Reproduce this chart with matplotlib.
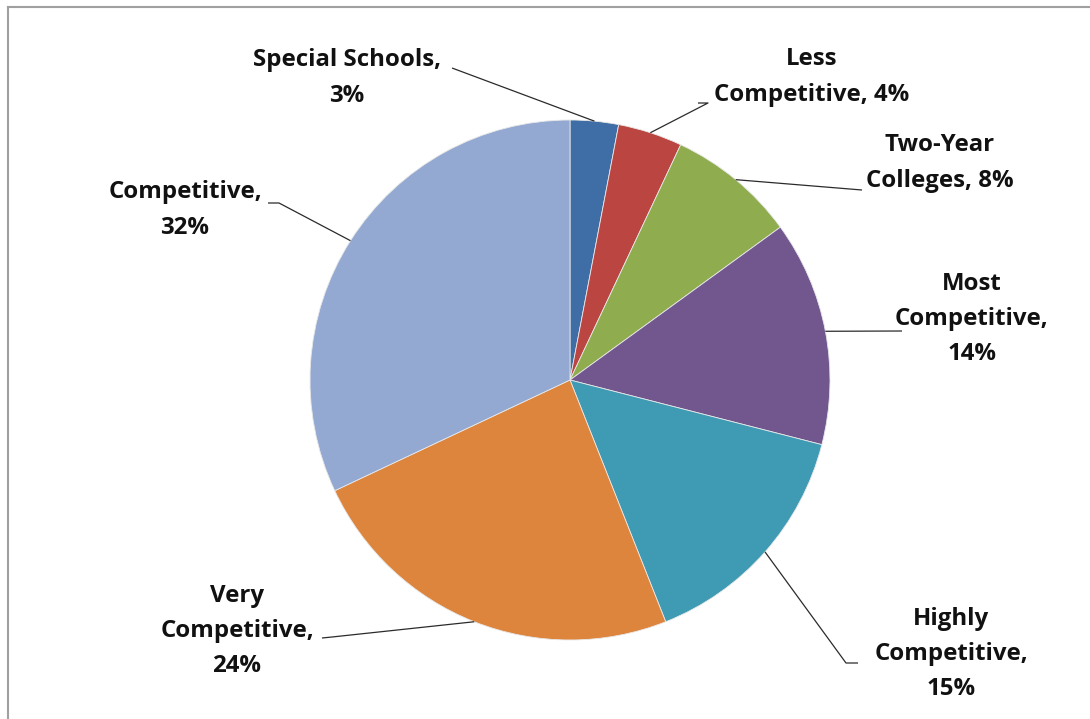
import numpy as np
import matplotlib.pyplot as plt
from matplotlib.lines import Line2D

# Share of schools by selectivity
labels = ['Special Schools', 'Less Competitive', 'Two-Year Colleges',
          'Most Competitive', 'Highly Competitive', 'Very Competitive',
          'Competitive']
shares = [3, 4, 8, 14, 15, 24, 32]
label_text = ['Special Schools,\n3%', 'Less\nCompetitive, 4%',
              'Two-Year\nColleges, 8%', 'Most\nCompetitive,\n14%',
              'Highly\nCompetitive,\n15%', 'Very\nCompetitive,\n24%',
              'Competitive,\n32%']
colors = ['#3F6DA6', '#BA4541', '#8FAD4E', '#72578F', '#3F9AB3',
          '#DD843D', '#94A9D2']

W, H = 1090, 719
cx, cy, R = 570, H - 380, 260

# label centre and the point where the leader line meets the text
label_pos = [(347, H - 78), (812, H - 77), (940, H - 163), (972, H - 319),
             (951, H - 654), (237, H - 631), (185, H - 210)]
line_end = [(452, H - 68), (698, H - 103), (862, H - 190), (902, H - 331),
            (858, H - 663), (322, H - 638), (268, H - 203)]
elbow = [None, (708, H - 103), None, None, (846, H - 663), (332, H - 637),
         (279, H - 203)]

fig = plt.figure(figsize=(W / 100, H / 100), dpi=100)
ax = fig.add_axes([0, 0, 1, 1])

ax.pie(shares, colors=colors, center=(cx, cy), radius=R, startangle=90,
       counterclock=False, frame=True,
       wedgeprops=dict(linewidth=0.6, edgecolor='#e8e8e8'))
ax.set_xlim(0, W)
ax.set_ylim(0, H)
ax.set_aspect('equal')
ax.axis('off')

font = ['Open Sans', 'DejaVu Sans']
cum = np.cumsum([0] + shares[:-1])
for i, s in enumerate(shares):
    mid = (cum[i] + s / 2) / 100 * 2 * np.pi
    px = cx + R * np.sin(mid)
    py = cy + R * np.cos(mid)
    xs, ys = [px], [py]
    if elbow[i] is not None:
        xs.append(elbow[i][0])
        ys.append(elbow[i][1])
    xs.append(line_end[i][0])
    ys.append(line_end[i][1])
    ax.plot(xs, ys, color='#2b2b2b', linewidth=0.9, solid_capstyle='butt')
    ax.text(label_pos[i][0], label_pos[i][1], label_text[i], ha='center',
            va='center', fontsize=17.3, fontweight='bold', family=font,
            linespacing=1.62, color='#111111')

# chart area border (top and left edges)
fig.add_artist(Line2D([8 / W, 1], [1 - 7 / H, 1 - 7 / H], color='#a0a0a0',
                      linewidth=1.5))
fig.add_artist(Line2D([8 / W, 8 / W], [0, 1 - 7 / H], color='#a0a0a0',
                      linewidth=1.5))

fig.savefig('out.png', dpi=100)
